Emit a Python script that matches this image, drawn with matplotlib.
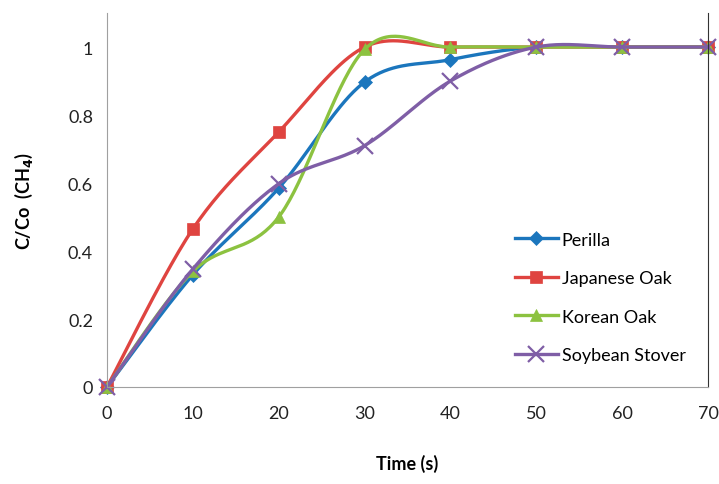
import numpy as np
import matplotlib.pyplot as plt

plt.rcParams['font.family'] = ['Lato', 'DejaVu Sans']

# Breakthrough data, C/Co of CH4 against time
time = [0, 10, 20, 30, 40, 50, 60, 70]
perilla = [0, 0.33, 0.585, 0.897, 0.963, 1, 1, 1]
japanese_oak = [0, 0.465, 0.75, 1, 1, 1, 1, 1]
korean_oak = [0, 0.34, 0.5, 0.993, 1, 1, 1, 1]
soybean_stover = [0, 0.347, 0.598, 0.71, 0.9, 1, 1, 1]


def smooth(x, y, n=40):
    # spreadsheet-style smoothed line: cubic Bezier segments through every point
    p = np.column_stack([x, y]).astype(float)
    p = np.vstack([p[0], p, p[-1]])
    out = []
    t = np.linspace(0, 1, n)[:, None]
    for i in range(1, len(p) - 2):
        p0, p1, p2, p3 = p[i - 1], p[i], p[i + 1], p[i + 2]
        c1 = p1 + (p2 - p0) / 6
        c2 = p2 - (p3 - p1) / 6
        seg = ((1 - t) ** 3) * p1 + 3 * ((1 - t) ** 2) * t * c1 + 3 * (1 - t) * t ** 2 * c2 + t ** 3 * p2
        out.append(seg)
    out = np.vstack(out)
    return out[:, 0], out[:, 1]


fig = plt.figure(figsize=(7.19, 4.85), dpi=100)
ax = fig.add_axes([0.1488, 0.2, 0.8359, 0.771])

series = [
    ('Perilla', perilla, '#1b76bd', 'D', 7),
    ('Japanese Oak', japanese_oak, '#df4440', 's', 9),
    ('Korean Oak', korean_oak, '#8cc240', '^', 9),
    ('Soybean Stover', soybean_stover, '#7f5ea6', 'x', 11),
]

for name, vals, col, mk, ms in series:
    xs, ys = smooth(time, vals)
    ax.plot(xs, ys, color=col, lw=2.4, solid_capstyle='round', clip_on=False)
    mew = 1.6 if mk == 'x' else 0.5
    ax.plot(time, vals, ls='none', marker=mk, ms=ms, color=col, mec=col, mew=mew, clip_on=False)
    # legend proxy
    ax.plot([], [], color=col, lw=2.4, marker=mk, ms=ms, mew=mew, label=name)

ax.set_xlim(0, 70)
ax.set_ylim(0, 1.1)
ax.set_xticks(time)
ax.set_yticks([0, 0.2, 0.4, 0.6, 0.8, 1])
ax.set_yticklabels(['0', '0.2', '0.4', '0.6', '0.8', '1'])
ax.tick_params(length=0, labelsize=13, colors='#222222', pad=10)
ax.tick_params(axis='x', pad=13)

for s in ['left', 'bottom']:
    ax.spines[s].set_color('#a0a0a0')
ax.spines['top'].set_visible(False)
ax.spines['right'].set_color('#333333')

ax.set_xlabel('Time (s)', fontsize=13, fontweight='bold', labelpad=24)
ax.set_ylabel('C/Co  (CH$_\\mathbf{4}$)', fontsize=13, fontweight='bold', labelpad=24)

ax.legend(loc='lower right', bbox_to_anchor=(0.99, 0.02), frameon=False, fontsize=13,
          handlelength=2.4, labelspacing=1.25, handletextpad=0.2)

fig.savefig('out.png', dpi=100)
